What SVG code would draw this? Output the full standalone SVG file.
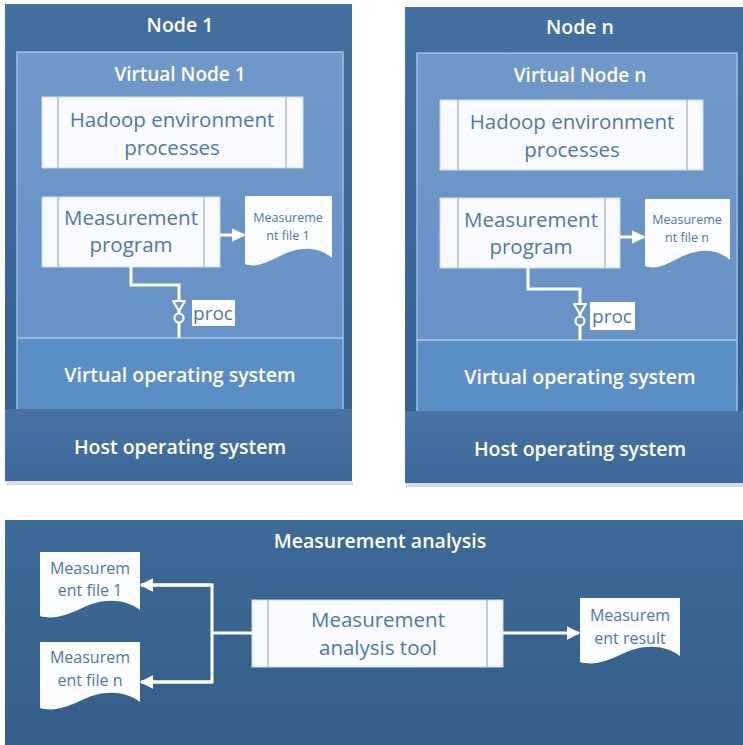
<svg xmlns="http://www.w3.org/2000/svg" width="743" height="745" viewBox="0 0 743 745">
  <defs>
    <linearGradient id="gOuter" x1="0" y1="0" x2="0" y2="1">
      <stop offset="0" stop-color="#44709f"/>
      <stop offset="1" stop-color="#325f8f"/>
    </linearGradient>
    <linearGradient id="gVirt" x1="0" y1="0" x2="0" y2="1">
      <stop offset="0" stop-color="#7098c9"/>
      <stop offset="1" stop-color="#6591c6"/>
    </linearGradient>
    <linearGradient id="gHost" x1="0" y1="0" x2="0" y2="1">
      <stop offset="0" stop-color="#4873a3"/>
      <stop offset="1" stop-color="#3d699a"/>
    </linearGradient>
    <linearGradient id="gAnalysis" x1="0" y1="0" x2="0" y2="1">
      <stop offset="0" stop-color="#3d6a97"/>
      <stop offset="1" stop-color="#355e89"/>
    </linearGradient>
    <marker id="arrow" viewBox="0 0 10 10" refX="9" refY="5" markerWidth="4.5" markerHeight="4.5" orient="auto">
      <path d="M0,0 L10,5 L0,10 Z" fill="#ffffff"/>
    </marker>
  </defs>
  <style>
    .outer { fill: url(#gOuter); }
    .virt { fill: url(#gVirt); stroke: #9fbfe2; stroke-width: 1.5; }
    .vos { fill: #5c8ec6; }
    .sep { stroke: #a8c6e6; stroke-width: 1.5; }
    .host { fill: url(#gHost); }
    .shadow { fill: #d9dde3; }
    .proc { fill: #f8fafd; stroke: #d0dbe8; stroke-width: 1; }
    .bar { stroke: #9aaec6; stroke-width: 1.2; }
    .doc { fill: #fbfcfe; }
    .title { font-family: "Open Sans", "Liberation Sans", sans-serif; fill: #ffffff; text-anchor: middle; font-weight: 600; }
    .blue { font-family: "Open Sans", "Liberation Sans", sans-serif; fill: #4d78aa; text-anchor: middle; }
    .link { fill: none; stroke: #ffffff; stroke-width: 3; }
    .label { fill: #ffffff; }
  </style>

  <!-- Node 1 -->
  <g id="node1">
    <rect class="shadow" x="6" y="481" width="347" height="4"/>
    <rect class="outer" x="5" y="4" width="347" height="477"/>
    <text class="title" x="180" y="32" font-size="19.5">Node 1</text>
    <g id="vnode1">
      <rect class="virt" x="17" y="52" width="326" height="358"/>
      <text class="title" x="180" y="81" font-size="19">Virtual Node 1</text>
      <rect class="vos" x="18" y="338" width="324" height="71"/>
      <line class="sep" x1="17" y1="338" x2="343" y2="338"/>
      <text class="title" x="180" y="382" font-size="19.5">Virtual operating system</text>
    </g>
    <g id="hadoop1">
      <rect class="proc" x="42" y="97" width="261" height="71"/>
      <line class="bar" x1="58" y1="97" x2="58" y2="168"/>
      <line class="bar" x1="286" y1="97" x2="286" y2="168"/>
      <text class="blue" x="172" y="127" font-size="20.5">Hadoop environment</text>
      <text class="blue" x="172" y="155" font-size="20.5">processes</text>
    </g>
    <g id="meas1">
      <rect class="proc" x="42" y="197" width="178" height="70"/>
      <line class="bar" x1="58" y1="197" x2="58" y2="267"/>
      <line class="bar" x1="204" y1="197" x2="204" y2="267"/>
      <text class="blue" x="131" y="225" font-size="20.5">Measurement</text>
      <text class="blue" x="131" y="252" font-size="20.5">program</text>
    </g>
    <g id="file1">
      <path class="doc" d="M245,196 H332 V258 C317,245 297,247 280,256 C266,263 256,268 245,264 Z"/>
      <text class="blue" x="288" y="222" font-size="12.5">Measureme</text>
      <text class="blue" x="288" y="240" font-size="12.5">nt file 1</text>
    </g>
    <g id="proc1">
      <rect class="label" x="192" y="300" width="43" height="26"/>
      <text class="blue" x="213" y="320" font-size="19">proc</text>
    </g>
    <g id="host1">
      <rect class="host" x="5" y="409" width="347" height="72"/>
      <text class="title" x="180" y="454" font-size="19.5">Host operating system</text>
    </g>
  </g>

  <!-- Node n -->
  <g id="noden">
    <rect class="shadow" x="406" y="483" width="340" height="4"/>
    <rect class="outer" x="405" y="7" width="345" height="476"/>
    <text class="title" x="580" y="34" font-size="19.5">Node n</text>
    <g id="vnoden">
      <rect class="virt" x="417" y="53" width="320" height="359"/>
      <text class="title" x="580" y="82" font-size="19">Virtual Node n</text>
      <rect class="vos" x="418" y="340" width="318" height="71"/>
      <line class="sep" x1="417" y1="340" x2="737" y2="340"/>
      <text class="title" x="580" y="384" font-size="19.5">Virtual operating system</text>
    </g>
    <g id="hadoopn">
      <rect class="proc" x="440" y="100" width="263" height="70"/>
      <line class="bar" x1="458" y1="100" x2="458" y2="170"/>
      <line class="bar" x1="687" y1="100" x2="687" y2="170"/>
      <text class="blue" x="572" y="129" font-size="20.5">Hadoop environment</text>
      <text class="blue" x="572" y="157" font-size="20.5">processes</text>
    </g>
    <g id="measn">
      <rect class="proc" x="440" y="198" width="180" height="70"/>
      <line class="bar" x1="458" y1="198" x2="458" y2="268"/>
      <line class="bar" x1="605" y1="198" x2="605" y2="268"/>
      <text class="blue" x="531" y="227" font-size="20.5">Measurement</text>
      <text class="blue" x="531" y="254" font-size="20.5">program</text>
    </g>
    <g id="filen">
      <path class="doc" d="M645,199 H730 V260 C716,247 696,249 679,258 C665,265 656,270 645,266 Z"/>
      <text class="blue" x="687" y="224" font-size="12.5">Measureme</text>
      <text class="blue" x="687" y="242" font-size="12.5">nt file n</text>
    </g>
    <g id="procn">
      <rect class="label" x="590" y="302" width="45" height="28"/>
      <text class="blue" x="612" y="323" font-size="19">proc</text>
    </g>
    <g id="hostn">
      <rect class="host" x="405" y="411" width="345" height="72"/>
      <text class="title" x="580" y="456" font-size="19.5">Host operating system</text>
    </g>
  </g>

  <!-- Measurement analysis -->
  <g id="analysis">
    <rect fill="url(#gAnalysis)" x="5" y="520" width="745" height="230"/>
    <text class="title" x="380" y="548" font-size="19.5">Measurement analysis</text>
    <g id="afile1">
      <path class="doc" d="M40,552 H140 V610 C123,597 100,599 82,608 C67,615 54,620 40,616 Z"/>
      <text class="blue" x="90" y="574" font-size="16">Measurem</text>
      <text class="blue" x="90" y="596" font-size="16">ent file 1</text>
    </g>
    <g id="afilen">
      <path class="doc" d="M40,642 H140 V702 C123,689 100,691 82,700 C67,707 54,712 40,708 Z"/>
      <text class="blue" x="90" y="663" font-size="16">Measurem</text>
      <text class="blue" x="90" y="686" font-size="16">ent file n</text>
    </g>
    <g id="tool">
      <rect class="proc" x="252" y="600" width="251" height="67"/>
      <line class="bar" x1="268" y1="600" x2="268" y2="667"/>
      <line class="bar" x1="487" y1="600" x2="487" y2="667"/>
      <text class="blue" x="378" y="627" font-size="20.5">Measurement</text>
      <text class="blue" x="378" y="655" font-size="20.5">analysis tool</text>
    </g>
    <g id="result">
      <path class="doc" d="M580,598 H680 V656 C663,643 640,645 622,654 C607,661 594,666 580,662 Z"/>
      <text class="blue" x="630" y="621" font-size="16">Measurem</text>
      <text class="blue" x="630" y="644" font-size="16">ent result</text>
    </g>
  </g>

  <!-- Connectors -->
  <g id="connectors">
    <line class="link" x1="220" y1="235" x2="244" y2="235" marker-end="url(#arrow)"/>
    <line class="link" x1="620" y1="237" x2="644" y2="237" marker-end="url(#arrow)"/>

    <polyline class="link" points="131,267 131,285 179,285 179,338"/>
    <path d="M173,301 L179,311 L185,301 Z" fill="#6a95c8" stroke="#ffffff" stroke-width="2.2" stroke-linejoin="round"/>
    <circle cx="179" cy="318" r="4.5" fill="#6a95c8" stroke="#ffffff" stroke-width="2.2"/>

    <polyline class="link" points="528,268 528,289 580,289 580,340"/>
    <path d="M574,304 L580,314 L586,304 Z" fill="#6a95c8" stroke="#ffffff" stroke-width="2.2" stroke-linejoin="round"/>
    <circle cx="580" cy="321" r="4.5" fill="#6a95c8" stroke="#ffffff" stroke-width="2.2"/>

    <polyline class="link" points="252,633 212,633"/>
    <polyline class="link" points="141,585 212,585 212,682 141,682"/>
    <line class="link" x1="212" y1="585" x2="141" y2="585" marker-end="url(#arrow)"/>
    <line class="link" x1="212" y1="682" x2="141" y2="682" marker-end="url(#arrow)"/>
    <line class="link" x1="503" y1="633" x2="579" y2="633" marker-end="url(#arrow)"/>
  </g>
</svg>
